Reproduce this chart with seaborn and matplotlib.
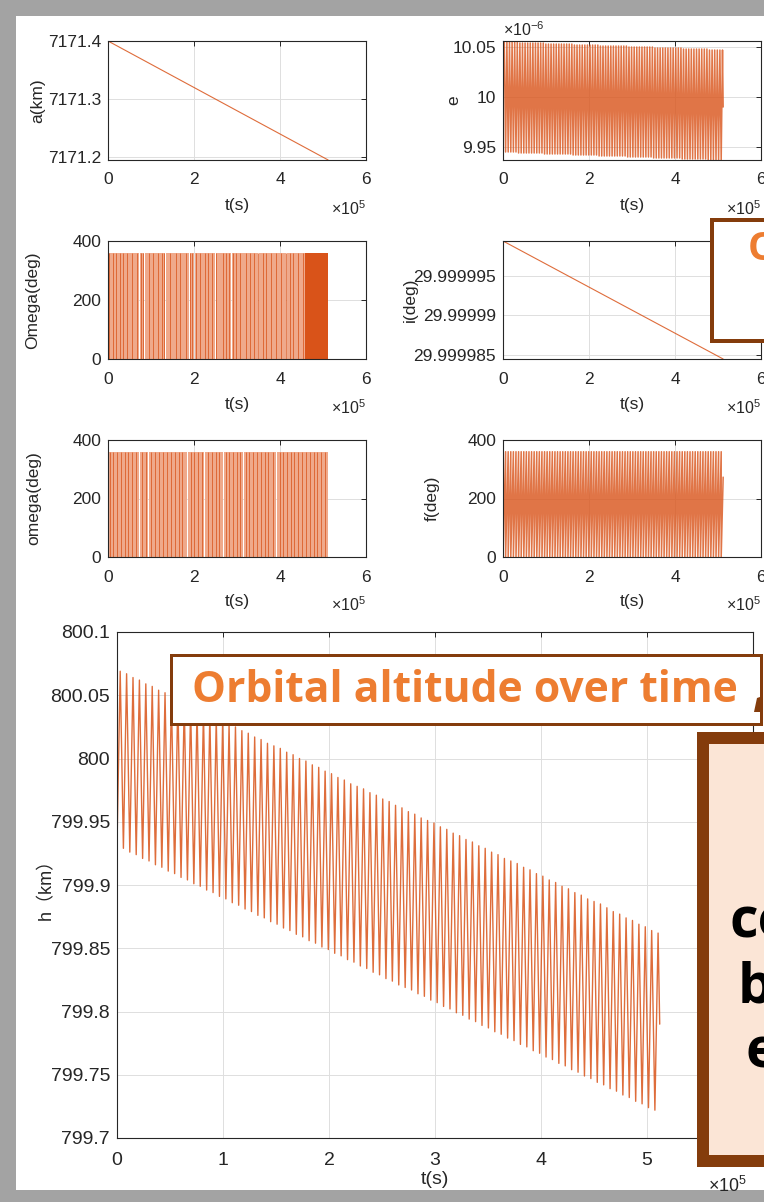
import matplotlib
matplotlib.use("Agg")
import matplotlib.pyplot as plt
import matplotlib.patches as mpatches
import numpy as np
import pandas as pd
import seaborn as sns

# ---------------- data ----------------
# perigee passes (time in ks)
t_peri_ks = [0.00, 6.04, 12.08, 18.12, 24.16, 30.21, 36.25, 42.29, 48.33, 54.37,
             60.41, 66.45, 72.49, 78.53, 84.57, 90.62, 96.66, 102.70, 108.74, 114.78,
             120.82, 126.86, 132.90, 138.94, 144.98, 151.03, 157.07, 163.11, 169.15, 175.19,
             181.23, 187.27, 193.31, 199.35, 205.39, 211.44, 217.48, 223.52, 229.56, 235.60,
             241.64, 247.68, 253.72, 259.76, 265.80, 271.85, 277.89, 283.93, 289.97, 296.01,
             302.05, 308.09, 314.13, 320.17, 326.21, 332.26, 338.30, 344.34, 350.38, 356.42,
             362.46, 368.50, 374.54, 380.58, 386.62, 392.67, 398.71, 404.75, 410.79, 416.83,
             422.87, 428.91, 434.95, 440.99, 447.03, 453.08, 459.12, 465.16, 471.20, 477.24,
             483.28, 489.32, 495.36, 501.40, 507.44]
# apogee passes (time in ks)
t_apo_ks = [3.02, 9.06, 15.10, 21.14, 27.18, 33.23, 39.27, 45.31, 51.35, 57.39,
            63.43, 69.47, 75.51, 81.55, 87.59, 93.64, 99.68, 105.72, 111.76, 117.80,
            123.84, 129.88, 135.92, 141.96, 148.00, 154.05, 160.09, 166.13, 172.17, 178.21,
            184.25, 190.29, 196.33, 202.37, 208.41, 214.46, 220.50, 226.54, 232.58, 238.62,
            244.66, 250.70, 256.74, 262.78, 268.82, 274.87, 280.91, 286.95, 292.99, 299.03,
            305.07, 311.11, 317.15, 323.19, 329.23, 335.28, 341.32, 347.36, 353.40, 359.44,
            365.48, 371.52, 377.56, 383.60, 389.64, 395.69, 401.73, 407.77, 413.81, 419.85,
            425.89, 431.93, 437.97, 444.01, 450.05, 456.10, 462.14, 468.18, 474.22, 480.26,
            486.30, 492.34, 498.38, 504.42, 510.46]
t_end_ks = 512.0

# altitude at perigee / apogee (km)
h_peri = [799.931, 799.929, 799.926, 799.924, 799.921, 799.919, 799.916, 799.914, 799.911, 799.909,
          799.906, 799.904, 799.901, 799.899, 799.896, 799.894, 799.891, 799.889, 799.886, 799.884,
          799.881, 799.879, 799.876, 799.874, 799.871, 799.869, 799.866, 799.864, 799.861, 799.859,
          799.856, 799.854, 799.851, 799.849, 799.846, 799.844, 799.841, 799.839, 799.836, 799.834,
          799.831, 799.829, 799.826, 799.824, 799.821, 799.819, 799.817, 799.814, 799.812, 799.809,
          799.807, 799.804, 799.802, 799.799, 799.797, 799.794, 799.792, 799.789, 799.787, 799.784,
          799.782, 799.779, 799.777, 799.774, 799.772, 799.769, 799.767, 799.764, 799.762, 799.759,
          799.757, 799.754, 799.752, 799.749, 799.747, 799.744, 799.742, 799.739, 799.737, 799.734,
          799.732, 799.729, 799.727, 799.724, 799.722]
h_apo = [800.069, 800.067, 800.064, 800.062, 800.059, 800.057, 800.054, 800.052, 800.049, 800.047,
         800.044, 800.042, 800.039, 800.037, 800.035, 800.032, 800.030, 800.027, 800.025, 800.022,
         800.020, 800.017, 800.015, 800.012, 800.010, 800.008, 800.005, 800.003, 800.000, 799.998,
         799.995, 799.993, 799.990, 799.988, 799.985, 799.983, 799.980, 799.978, 799.976, 799.973,
         799.971, 799.968, 799.966, 799.963, 799.961, 799.958, 799.956, 799.953, 799.951, 799.949,
         799.946, 799.944, 799.941, 799.939, 799.936, 799.934, 799.931, 799.929, 799.926, 799.924,
         799.921, 799.919, 799.917, 799.914, 799.912, 799.909, 799.907, 799.904, 799.902, 799.899,
         799.897, 799.894, 799.892, 799.889, 799.887, 799.885, 799.882, 799.879, 799.877, 799.874,
         799.872, 799.869, 799.867, 799.864, 799.862]
h_end = 799.79

# eccentricity (x1e-6): high at apogees, low at perigees 1..84
e_start = 10.0
e_hi = [10.055, 10.055, 10.055, 10.055, 10.055, 10.055, 10.054, 10.054, 10.054, 10.054,
        10.054, 10.054, 10.054, 10.054, 10.054, 10.054, 10.053, 10.053, 10.053, 10.053,
        10.053, 10.053, 10.053, 10.053, 10.053, 10.053, 10.053, 10.052, 10.052, 10.052,
        10.052, 10.052, 10.052, 10.052, 10.052, 10.052, 10.052, 10.051, 10.051, 10.051,
        10.051, 10.051, 10.051, 10.051, 10.051, 10.051, 10.051, 10.051, 10.050, 10.050,
        10.050, 10.050, 10.050, 10.050, 10.050, 10.050, 10.050, 10.050, 10.049, 10.049,
        10.049, 10.049, 10.049, 10.049, 10.049, 10.049, 10.049, 10.049, 10.049, 10.048,
        10.048, 10.048, 10.048, 10.048, 10.048, 10.048, 10.048, 10.048, 10.048, 10.047,
        10.047, 10.047, 10.047, 10.047, 10.047]
e_lo = [9.945, 9.945, 9.945, 9.945, 9.945, 9.944, 9.944, 9.944, 9.944, 9.944,
        9.944, 9.944, 9.944, 9.944, 9.944, 9.943, 9.943, 9.943, 9.943, 9.943,
        9.943, 9.943, 9.943, 9.943, 9.943, 9.943, 9.942, 9.942, 9.942, 9.942,
        9.942, 9.942, 9.942, 9.942, 9.942, 9.942, 9.941, 9.941, 9.941, 9.941,
        9.941, 9.941, 9.941, 9.941, 9.941, 9.941, 9.941, 9.940, 9.940, 9.940,
        9.940, 9.940, 9.940, 9.940, 9.940, 9.940, 9.940, 9.939, 9.939, 9.939,
        9.939, 9.939, 9.939, 9.939, 9.939, 9.939, 9.939, 9.939, 9.938, 9.938,
        9.938, 9.938, 9.938, 9.938, 9.938, 9.938, 9.938, 9.938, 9.937, 9.937,
        9.937, 9.937, 9.937, 9.937]
e_end = 9.99

# semi-major axis and inclination (start / end)
t_lin = [0.0, 512000.0]
a_km = [7171.4, 7171.195]
i_deg = [29.9999994, 29.9999845]

# true anomaly at the last sample (deg)
f_end = 273.0

# RAAN / arg. of perigee flip between 0 and 360 deg: darker flip lines, white gaps (x1e5 s)
Omega_marks = [0.031, 0.108, 0.178, 0.278, 0.356, 0.449, 0.549, 0.665, 0.758, 0.820,
               0.959, 1.052, 1.168, 1.245, 1.299, 1.439, 1.593, 1.671, 1.825, 1.903,
               1.964, 2.057, 2.135, 2.251, 2.328, 2.428, 2.521, 2.676, 2.753, 2.815,
               2.908, 2.985, 3.078, 3.217, 3.295, 3.387, 3.488, 3.604, 3.681, 3.797,
               3.913, 4.029, 4.145, 4.223, 4.300, 4.416, 4.532]
Omega_gaps = [0.73, 0.86, 1.33, 1.89, 2.02, 2.49, 2.87, 3.49, 4.14]
Omega_band_end = 4.59
Omega_dense = [4.59, 5.12]
omega_marks = [0.040, 0.120, 0.210, 0.300, 0.390, 0.470, 0.560, 0.640, 0.800, 0.880,
               1.010, 1.100, 1.190, 1.290, 1.380, 1.460, 1.550, 1.640, 1.720, 1.930,
               2.010, 2.100, 2.190, 2.330, 2.410, 2.500, 2.590, 2.740, 2.820, 2.910,
               3.000, 3.080, 3.210, 3.290, 3.380, 3.470, 3.560, 3.640, 3.730, 3.830,
               3.990, 4.080, 4.160, 4.250, 4.330, 4.420, 4.510, 4.600, 4.690, 4.780,
               4.870, 4.960, 5.050]
omega_gaps = [0.74, 0.94, 1.86, 2.25, 2.68, 3.14, 3.91]
omega_band_end = 5.12

LINE = "#D95319"
LIGHT = "#EFA98B"
INK = "#262626"
BROWN = "#843C0C"

# ---------------- build the line series from the lists ----------------
t_h, h = [t_peri_ks[0]], [h_peri[0]]
t_e, e = [t_peri_ks[0]], [e_start]
for k in range(len(t_apo_ks)):
    t_h.append(t_apo_ks[k]); h.append(h_apo[k])
    t_e.append(t_apo_ks[k]); e.append(e_hi[k])
    if k + 1 < len(t_peri_ks):
        t_h.append(t_peri_ks[k + 1]); h.append(h_peri[k + 1])
        t_e.append(t_peri_ks[k + 1]); e.append(e_lo[k])
t_h.append(t_end_ks); h.append(h_end)
t_e.append(t_end_ks); e.append(e_end)

t_f, f = [], []
for k in range(len(t_peri_ks) - 1):
    t_f += [t_peri_ks[k], t_peri_ks[k + 1]]
    f += [0.0, 360.0]
t_f += [t_peri_ks[-1], t_end_ks]
f += [0.0, f_end]

df_h = pd.DataFrame({"t": np.array(t_h) * 1e3, "h": h})
df_e = pd.DataFrame({"t": np.array(t_e) * 1e3, "e": e})
df_f = pd.DataFrame({"t": np.array(t_f) * 1e3, "f": f})
df_lin = pd.DataFrame({"t": t_lin, "a": a_km, "i": i_deg})

# ---------------- figure ----------------
sns.set_theme(style="white")
plt.rcParams["font.family"] = ["Liberation Sans", "Noto Sans CJK SC", "DejaVu Sans"]
plt.rcParams["mathtext.fontset"] = "custom"
plt.rcParams["mathtext.rm"] = "Liberation Sans"

W, H = 764, 1202
fig = plt.figure(figsize=(W / 100, H / 100), dpi=100)
fig.patch.set_facecolor("#A3A3A3")
fig.add_artist(mpatches.Rectangle((16 / W, 12 / H), 1, 1 - 28 / H, transform=fig.transFigure,
                                  facecolor="white", edgecolor="none", zorder=-5))


def px_axes(x0, y0, x1, y1):
    return fig.add_axes([x0 / W, 1 - y1 / H, (x1 - x0) / W, (y1 - y0) / H])


def style(ax, fs, xpad):
    ax.set_facecolor("white")
    ax.grid(True, color="#DEDEDE", lw=0.7)
    ax.set_axisbelow(True)
    for s in ax.spines.values():
        s.set_visible(True)
        s.set_color(INK)
        s.set_linewidth(0.8)
    ax.tick_params(direction="in", top=True, right=True, length=3.5, width=0.7,
                   colors=INK, labelsize=fs, pad=5)
    ax.tick_params(axis="x", pad=xpad)


def time_axis(ax, fs, lab_y, mult_x, mult_y, ticks):
    ax.set_xlim(0, 6e5)
    ax.set_xticks([t * 1e5 for t in ticks])
    ax.set_xticklabels([str(t) for t in ticks])
    ax.set_xlabel("t(s)", fontsize=fs, color=INK)
    ax.xaxis.set_label_coords(0.5, lab_y)
    ax.text(mult_x, mult_y, r"$\times\mathregular{10^{5}}$", transform=ax.transAxes,
            ha="right", va="top", fontsize=fs * 0.92, color=INK)


def flip_band(ax, marks, gaps, band_end):
    edges = [0.0]
    for g in gaps:
        edges += [g - 0.012, g + 0.012]
    edges.append(band_end)
    for s0, s1 in zip(edges[0::2], edges[1::2]):
        ax.fill_between([s0 * 1e5, s1 * 1e5], 0, 360, color=LIGHT, lw=0)
    ax.vlines([m * 1e5 for m in marks], 0, 360, color=LINE, lw=0.7, alpha=0.75)


FS = 12.5
rows = [(41, 160), (241, 359), (440, 557)]
L = (108, 366)
R = (503, 761)
ax_a = px_axes(L[0], rows[0][0], L[1], rows[0][1])
ax_e = px_axes(R[0], rows[0][0], R[1], rows[0][1])
ax_O = px_axes(L[0], rows[1][0], L[1], rows[1][1])
ax_i = px_axes(R[0], rows[1][0], R[1], rows[1][1])
ax_w = px_axes(L[0], rows[2][0], L[1], rows[2][1])
ax_f = px_axes(R[0], rows[2][0], R[1], rows[2][1])
ax_h = px_axes(117, 632, 753, 1138)

for ax in [ax_a, ax_e, ax_O, ax_i, ax_w, ax_f]:
    style(ax, FS, 9)
    time_axis(ax, FS, -0.32, 1.0, -0.33, [0, 2, 4, 6])

# a
sns.lineplot(data=df_lin, x="t", y="a", ax=ax_a, color=LINE, lw=0.8, alpha=0.85, estimator=None)
ax_a.set_ylim(7171.195, 7171.4)
ax_a.set_yticks([7171.2, 7171.3, 7171.4])
ax_a.set_yticklabels(["7171.2", "7171.3", "7171.4"])
ax_a.set_ylabel("a(km)", fontsize=FS, color=INK)
ax_a.yaxis.set_label_coords(-0.245, 0.5)

# e
sns.lineplot(data=df_e, x="t", y="e", ax=ax_e, color=LINE, lw=1.1, alpha=0.8, estimator=None, sort=False)
ax_e.set_ylim(9.937, 10.056)
ax_e.set_yticks([9.95, 10.0, 10.05])
ax_e.set_yticklabels(["9.95", "10", "10.05"])
ax_e.set_ylabel("e", fontsize=FS, color=INK)
ax_e.yaxis.set_label_coords(-0.16, 0.5)
ax_e.text(0.0, 1.02, r"$\times\mathregular{10^{-6}}$", transform=ax_e.transAxes,
          ha="left", va="bottom", fontsize=FS * 0.92, color=INK)

# Omega
flip_band(ax_O, Omega_marks, Omega_gaps, Omega_band_end)
ax_O.fill_between([Omega_dense[0] * 1e5, Omega_dense[1] * 1e5], 0, 360, color=LINE, lw=0)
ax_O.set_ylim(0, 400)
ax_O.set_yticks([0, 200, 400])
ax_O.set_ylabel("Omega(deg)", fontsize=FS, color=INK)
ax_O.yaxis.set_label_coords(-0.265, 0.5)

# i
sns.lineplot(data=df_lin, x="t", y="i", ax=ax_i, color=LINE, lw=0.8, alpha=0.85, estimator=None)
ax_i.set_ylim(29.9999845, 29.9999994)
ax_i.set_yticks([29.999985, 29.99999, 29.999995])
ax_i.set_yticklabels(["29.999985", "29.99999", "29.999995"])
ax_i.set_ylabel("i(deg)", fontsize=FS, color=INK)
ax_i.yaxis.set_label_coords(-0.33, 0.5)

# omega
flip_band(ax_w, omega_marks, omega_gaps, omega_band_end)
ax_w.set_ylim(0, 400)
ax_w.set_yticks([0, 200, 400])
ax_w.set_ylabel("omega(deg)", fontsize=FS, color=INK)
ax_w.yaxis.set_label_coords(-0.26, 0.5)

# f
sns.lineplot(data=df_f, x="t", y="f", ax=ax_f, color=LINE, lw=1.1, alpha=0.8, estimator=None, sort=False)
ax_f.set_ylim(0, 400)
ax_f.set_yticks([0, 200, 400])
ax_f.set_ylabel("f(deg)", fontsize=FS, color=INK)
ax_f.yaxis.set_label_coords(-0.245, 0.5)

for ax in [ax_a, ax_e, ax_O, ax_i, ax_w, ax_f]:
    ax.set_xlim(0, 6e5)
    ax.set_xlabel("t(s)", fontsize=FS, color=INK)

# altitude
FSH = 14
style(ax_h, FSH, 10)
sns.lineplot(data=df_h, x="t", y="h", ax=ax_h, color=LINE, lw=1.0, alpha=0.85, estimator=None, sort=False)
ax_h.set_ylim(799.7, 800.1)
hy = [799.7, 799.75, 799.8, 799.85, 799.9, 799.95, 800.0, 800.05, 800.1]
ax_h.set_yticks(hy)
ax_h.set_yticklabels(["799.7", "799.75", "799.8", "799.85", "799.9", "799.95", "800", "800.05", "800.1"])
ax_h.set_ylabel("h（km）", fontsize=13, color=INK)
ax_h.yaxis.set_label_coords(-0.098, 0.5)
time_axis(ax_h, FSH, -0.066, 0.99, -0.075, [0, 1, 2, 3, 4, 5, 6])

# ---------------- annotation boxes ----------------
def box(x0, y0, x1, y1, lw_px, face):
    r = mpatches.Rectangle((x0 / W, 1 - y1 / H), (x1 - x0) / W, (y1 - y0) / H,
                           transform=fig.transFigure, facecolor=face, edgecolor=BROWN,
                           linewidth=lw_px * 0.72, zorder=5)
    fig.add_artist(r)


ORANGE = "#ED7D31"
box(712, 220, 820, 341, 4, "white")
fig.text(748 / W, 1 - 250 / H, "Orbital elements", fontsize=28, color=ORANGE,
         fontweight="bold", family="Open Sans", ha="left", va="center", zorder=6)

box(171, 655, 761, 724, 3, "white")
title = fig.text(465 / W, 1 - 690 / H, "Orbital altitude over time", fontsize=28, color=ORANGE,
                 fontweight="bold", family="Open Sans", ha="center", va="center", zorder=6)
fig.canvas.draw()
bb = title.get_window_extent()
title.set_fontsize(28 * 544 / bb.width)

# small brown connector tip on the title box
fig.add_artist(mpatches.Polygon([(754 / W, 1 - 712 / H), (757 / W, 1 - 698 / H), (763 / W, 1 - 696 / H),
                                 (763 / W, 1 - 712 / H)], closed=True, transform=fig.transFigure,
                                facecolor=BROWN, edgecolor="none", zorder=6))

box(703, 738, 900, 1161, 12, "#FBE5D6")
for txt, x, y in [("continuously", 730, 937), ("but slowly", 738, 1003), ("evolving", 745, 1067)]:
    fig.text(x / W, 1 - y / H, txt, fontsize=40, color="black", fontweight="bold",
             family="Open Sans", ha="left", va="baseline", zorder=6)

fig.savefig("out.png", dpi=100)
